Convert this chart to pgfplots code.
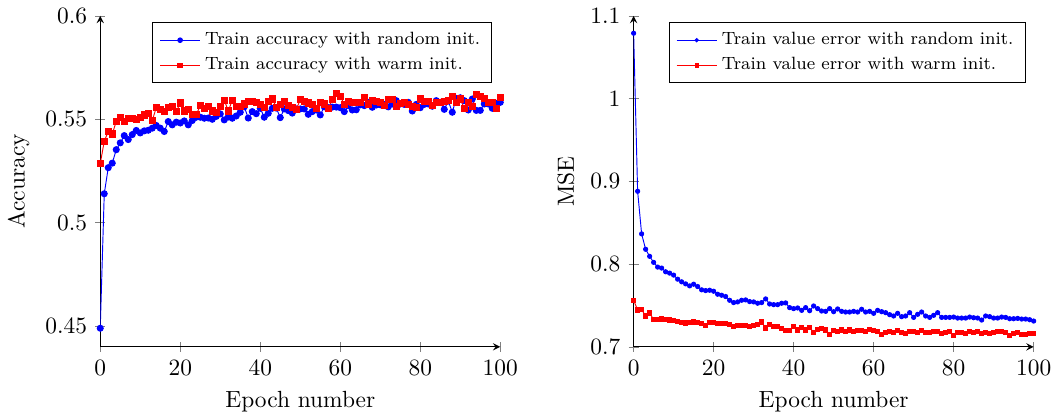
\documentclass[border=0pt]{standalone}
\usepackage{pgfplots}
\pgfplotsset{compat=1.18}
\usepackage{pgfplotstable}
\pgfplotstableread{
e rnd warm
0 0.449 0.5285
1 0.514 0.5394
2 0.5266 0.5441
3 0.5288 0.5429
4 0.5353 0.5489
5 0.5386 0.5510
6 0.5421 0.5489
7 0.5402 0.5502
8 0.5426 0.5506
9 0.5446 0.5497
10 0.5434 0.5508
11 0.5444 0.5521
12 0.5447 0.5526
13 0.5457 0.5494
14 0.5470 0.5556
15 0.5457 0.5546
16 0.5441 0.5538
17 0.5489 0.5558
18 0.5473 0.5563
19 0.5486 0.5537
20 0.5482 0.5579
21 0.5492 0.5540
22 0.5473 0.5546
23 0.5494 0.5524
24 0.5510 0.5522
25 0.5510 0.5566
26 0.5505 0.5553
27 0.5506 0.5560
28 0.5500 0.5540
29 0.5514 0.5534
30 0.5526 0.5560
31 0.5497 0.5593
32 0.5511 0.5540
33 0.5505 0.5591
34 0.5516 0.5560
35 0.5534 0.5560
36 0.5560 0.5574
37 0.5506 0.5588
38 0.5537 0.5585
39 0.5527 0.5582
40 0.5553 0.5570
41 0.5510 0.5556
42 0.5529 0.5588
43 0.5553 0.5598
44 0.5554 0.5559
45 0.5508 0.5570
46 0.5550 0.5588
47 0.5542 0.5567
48 0.5530 0.5556
49 0.5550 0.5548
50 0.5550 0.5595
51 0.5550 0.5585
52 0.5524 0.5579
53 0.5537 0.5572
54 0.5545 0.5553
55 0.5521 0.5580
56 0.5560 0.5574
57 0.5556 0.5553
58 0.5559 0.5596
59 0.5559 0.5625
60 0.5556 0.5612
61 0.5537 0.5572
62 0.5566 0.5585
63 0.5545 0.5582
64 0.5546 0.5582
65 0.5570 0.5582
66 0.5566 0.5604
67 0.5582 0.5574
68 0.5558 0.5593
69 0.5569 0.5585
70 0.5570 0.5582
71 0.5572 0.5566
72 0.5560 0.5595
73 0.5574 0.5595
74 0.5590 0.5560
75 0.5574 0.5575
76 0.5572 0.5582
77 0.5582 0.5572
78 0.5540 0.5560
79 0.5572 0.5559
80 0.5556 0.5598
81 0.5572 0.5588
82 0.5574 0.5585
83 0.5563 0.5566
84 0.5590 0.5583
85 0.5582 0.5582
86 0.5548 0.5585
87 0.5588 0.5590
88 0.5534 0.5611
89 0.5601 0.5582
90 0.5604 0.5598
91 0.5590 0.5553
92 0.5545 0.5582
93 0.5598 0.5560
94 0.5543 0.5619
95 0.5543 0.5609
96 0.5574 0.5601
97 0.5574 0.5582
98 0.5553 0.5582
99 0.5577 0.5553
100 0.5582 0.5606
}\acc
\pgfplotstableread{
e rnd warm
0 1.0790 0.7563
1 0.8880 0.7446
2 0.8365 0.7450
3 0.8179 0.7373
4 0.8094 0.7409
5 0.8021 0.7328
6 0.7964 0.7332
7 0.7952 0.7336
8 0.7907 0.7328
9 0.7891 0.7324
10 0.7867 0.7320
11 0.7818 0.7308
12 0.7786 0.7292
13 0.7761 0.7288
14 0.7737 0.7296
15 0.7757 0.7300
16 0.7729 0.7292
17 0.7689 0.7279
18 0.7680 0.7255
19 0.7684 0.7292
20 0.7672 0.7292
21 0.7636 0.7284
22 0.7624 0.7279
23 0.7608 0.7284
24 0.7563 0.7271
25 0.7535 0.7251
26 0.7543 0.7259
27 0.7563 0.7259
28 0.7567 0.7255
29 0.7547 0.7243
30 0.7543 0.7255
31 0.7527 0.7267
32 0.7535 0.7300
33 0.7579 0.7227
34 0.7518 0.7267
35 0.7510 0.7247
36 0.7510 0.7251
37 0.7527 0.7219
38 0.7531 0.7194
39 0.7474 0.7194
40 0.7462 0.7251
41 0.7470 0.7203
42 0.7441 0.7239
43 0.7474 0.7203
44 0.7437 0.7231
45 0.7494 0.7178
46 0.7462 0.7211
47 0.7433 0.7219
48 0.7429 0.7203
49 0.7462 0.7154
50 0.7425 0.7198
51 0.7458 0.7186
52 0.7429 0.7203
53 0.7421 0.7190
54 0.7421 0.7203
55 0.7429 0.7186
56 0.7421 0.7194
57 0.7454 0.7194
58 0.7421 0.7186
59 0.7429 0.7207
60 0.7405 0.7198
61 0.7441 0.7182
62 0.7425 0.7154
63 0.7413 0.7178
64 0.7389 0.7186
65 0.7373 0.7178
66 0.7405 0.7194
67 0.7365 0.7170
68 0.7373 0.7166
69 0.7413 0.7186
70 0.7356 0.7182
71 0.7393 0.7178
72 0.7421 0.7194
73 0.7373 0.7178
74 0.7356 0.7178
75 0.7381 0.7186
76 0.7413 0.7186
77 0.7356 0.7158
78 0.7356 0.7178
79 0.7356 0.7186
80 0.7360 0.7138
81 0.7348 0.7170
82 0.7348 0.7178
83 0.7348 0.7158
84 0.7360 0.7190
85 0.7352 0.7170
86 0.7348 0.7182
87 0.7324 0.7166
88 0.7373 0.7170
89 0.7365 0.7166
90 0.7348 0.7170
91 0.7348 0.7186
92 0.7360 0.7190
93 0.7356 0.7178
94 0.7340 0.7138
95 0.7340 0.7162
96 0.7344 0.7178
97 0.7336 0.7150
98 0.7336 0.7146
99 0.7328 0.7162
100 0.7312 0.7162
}\mse
\begin{document}
\begin{tikzpicture}
\pgfplotsset{
  every axis/.append style={
    scale only axis, width=171pt, height=141.5pt,
    axis lines=left, tick align=center,
    xmin=0, xmax=100, xtick={0,20,40,60,80,100},
    xlabel={Epoch number},
    legend style={font=\fontsize{7.6}{9}\selectfont, cells={anchor=west}, draw=black},
  }
}
\begin{axis}[ymin=0.44, ymax=0.6, ytick={0.45,0.5,0.55,0.6},
  yticklabels={0.45,0.5,0.55,0.6}, ylabel={Accuracy},
  legend image post style={mark size=1pt}]
\addplot[blue, mark=*, mark size=1.3pt] table[x=e, y=rnd] {\acc};
\addlegendentry{Train accuracy with random init.}
\addplot[red, mark=square*, mark size=1.3pt] table[x=e, y=warm] {\acc};
\addlegendentry{Train accuracy with warm init.}
\end{axis}
\begin{axis}[at={(228pt,0)}, ymin=0.7, ymax=1.1, ytick={0.7,0.8,0.9,1,1.1},
  yticklabels={0.7,0.8,0.9,1,1.1}, ylabel={MSE},
  legend image post style={mark size=0.7pt}]
\addplot[blue, mark=*, mark size=0.9pt] table[x=e, y=rnd] {\mse};
\addlegendentry{Train value error with random init.}
\addplot[red, mark=square*, mark size=0.9pt] table[x=e, y=warm] {\mse};
\addlegendentry{Train value error with warm init.}
\end{axis}
\end{tikzpicture}
\end{document}
